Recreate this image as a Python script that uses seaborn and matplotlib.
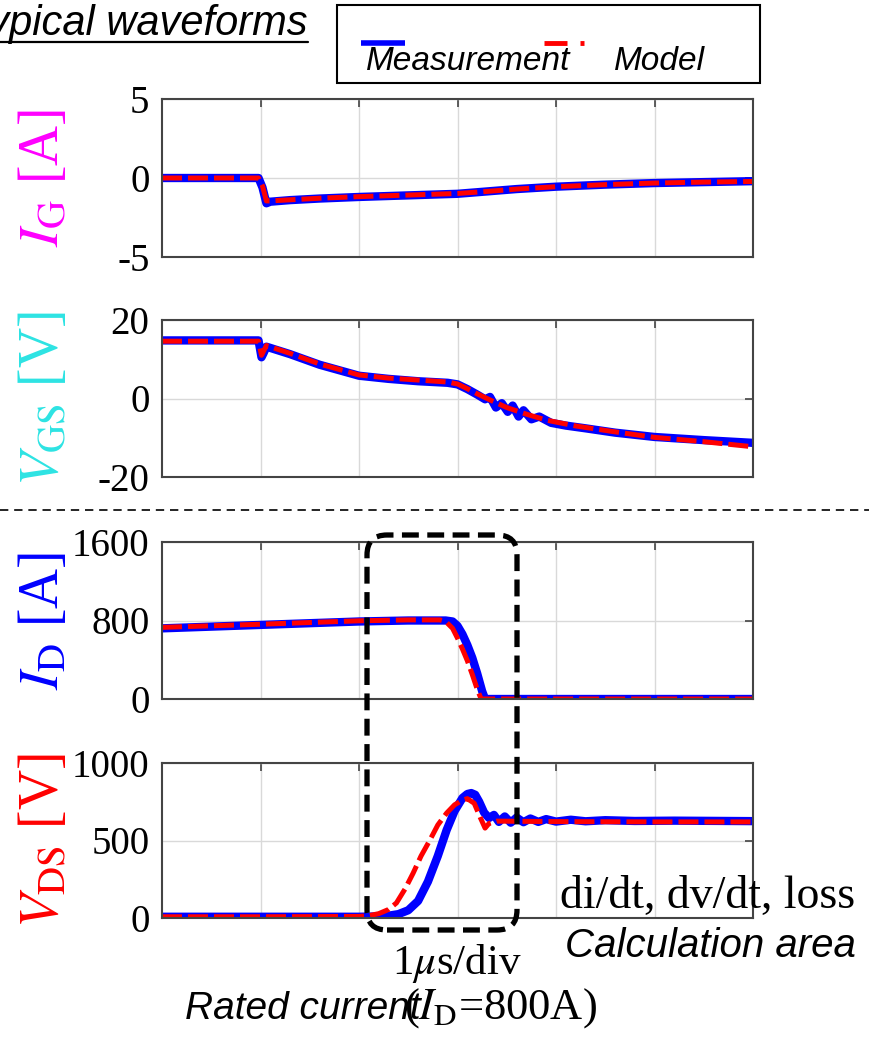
import numpy as np
import matplotlib
matplotlib.use("Agg")
import matplotlib.pyplot as plt
from matplotlib.patches import FancyBboxPatch, Rectangle
from matplotlib.lines import Line2D
import seaborn as sns

# ---------------- data (time in microseconds) ----------------
t_ig = [0, 0.98, 1.02, 1.06, 1.10, 1.3, 1.6, 2.0, 2.5, 3.0, 3.3, 3.6, 4.0, 4.5, 5.0, 5.5, 6.0]
ig_meas = [0, 0, -0.6, -1.6, -1.5, -1.4, -1.3, -1.2, -1.1, -1.0, -0.85, -0.7, -0.55, -0.42, -0.32, -0.26, -0.2]
ig_model = [0, 0, -0.5, -1.45, -1.45, -1.38, -1.28, -1.18, -1.08, -0.98, -0.85, -0.7, -0.55, -0.42, -0.32, -0.26, -0.22]

t_vgs_meas = [0, 0.98, 1.01, 1.03, 1.06, 1.3, 1.6, 2.0, 2.3, 2.6, 2.9, 3.0, 3.1, 3.2, 3.28, 3.33,
              3.39, 3.45, 3.51, 3.56, 3.62, 3.67, 3.75, 3.83, 3.95, 4.1, 4.3, 4.6, 5.0, 5.5, 6.0]
vgs_meas = [14.8, 14.8, 10.5, 11.5, 13.2, 11.3, 8.6, 5.8, 5.0, 4.4, 4.0, 3.6, 2.4, 1.0, -0.2, 0.4,
            -2.3, -1.2, -3.4, -1.8, -4.6, -3.0, -5.3, -4.6, -6.2, -6.9, -7.6, -8.7, -9.8, -10.6, -11.3]
t_vgs_model = [0, 0.98, 1.01, 1.03, 1.06, 1.3, 1.6, 2.0, 2.3, 2.6, 2.9, 3.0, 3.1, 3.2, 3.35, 3.5,
               3.7, 3.9, 4.2, 4.6, 5.0, 5.5, 6.0]
vgs_model = [14.6, 14.6, 11.0, 12.0, 13.5, 11.5, 8.8, 6.0, 5.2, 4.7, 4.2, 3.7, 2.5, 1.2, -0.6, -2.3,
             -4.0, -5.5, -7.0, -8.5, -9.9, -11.0, -12.3]

t_id_meas = [0, 1, 2, 2.5, 2.88, 2.95, 3.0, 3.05, 3.1, 3.15, 3.2, 3.25, 3.28, 4, 5, 6]
id_meas = [720, 755, 790, 800, 800, 790, 745, 660, 550, 420, 260, 80, 0, 0, 0, 0]
t_id_model = [0, 1, 2, 2.5, 2.82, 2.88, 2.95, 3.0, 3.05, 3.1, 3.15, 3.2, 3.24, 4, 5, 6]
id_model = [730, 762, 797, 806, 806, 790, 720, 620, 510, 390, 250, 100, 0, 0, 0, 0]

t_vds_meas = [0, 1, 2, 2.2, 2.3, 2.4, 2.5, 2.6, 2.7, 2.8, 2.89, 2.97, 3.05, 3.1, 3.14, 3.18, 3.22,
              3.27, 3.32, 3.37, 3.42, 3.48, 3.54, 3.6, 3.67, 3.74, 3.82, 3.9, 4.0, 4.15, 4.3, 4.5,
              4.8, 5.2, 6.0]
vds_meas = [8, 8, 8, 10, 15, 25, 50, 110, 235, 400, 568, 690, 774, 800, 806, 795, 750,
            680, 645, 665, 620, 655, 615, 648, 618, 642, 620, 638, 622, 634, 624, 631,
            626, 628, 625]
t_vds_model = [0, 1, 2, 2.1, 2.2, 2.3, 2.38, 2.47, 2.55, 2.63, 2.72, 2.8, 2.89, 2.97, 3.05, 3.1,
               3.17, 3.23, 3.28, 3.32, 3.4, 4, 5, 6]
vds_model = [8, 8, 10, 15, 28, 55, 97, 190, 290, 400, 503, 600, 677, 730, 760, 770,
             740, 650, 580, 610, 625, 622, 620, 620]

panels = [
    (t_ig, ig_meas, t_ig, ig_model, (-5, 5), [-5, 0, 5], r'$I_{\mathrm{G}}$ [A]', '#ff00ff'),
    (t_vgs_meas, vgs_meas, t_vgs_model, vgs_model, (-20, 20), [-20, 0, 20], r'$V_{\mathrm{GS}}$ [V]', '#2de3e3'),
    (t_id_meas, id_meas, t_id_model, id_model, (0, 1600), [0, 800, 1600], r'$I_{\mathrm{D}}$ [A]', '#0000ff'),
    (t_vds_meas, vds_meas, t_vds_model, vds_model, (0, 1000), [0, 500, 1000], r'$V_{\mathrm{DS}}$ [V]', '#ff0000'),
]
x_ticks = [1, 2, 3, 4, 5]

# ---------------- style ----------------
sns.set_style("white")
plt.rcParams['font.family'] = ['Liberation Serif', 'DejaVu Serif']
plt.rcParams['mathtext.fontset'] = 'stix'
plt.rcParams['axes.unicode_minus'] = False
plt.rcParams['text.color'] = 'black'
plt.rcParams['xtick.color'] = 'black'
plt.rcParams['ytick.color'] = 'black'

W, H = 869, 1045
fig = plt.figure(figsize=(W / 100, H / 100), dpi=100)

def fx(px):
    return px / W

def fy(py):
    return 1 - py / H

# axes positions in pixels: (left, top, right, bottom)
boxes = [(162, 99, 753, 257), (162, 320, 753, 477), (162, 542, 753, 699), (162, 763, 753, 918)]

for (tm, ym, tmod, ymod, ylim, yt, lab, col), (l, t, r, b) in zip(panels, boxes):
    ax = fig.add_axes([fx(l), fy(b), fx(r) - fx(l), fy(t) - fy(b)])
    sns.lineplot(x=tm, y=ym, ax=ax, color='#0000ff', linewidth=6.0, sort=False,
                 estimator=None, solid_capstyle='round', solid_joinstyle='round')
    sns.lineplot(x=tmod, y=ymod, ax=ax, color='#ff0000', linewidth=3.6, sort=False,
                 estimator=None, linestyle=(0, (4, 1.2)))
    ax.set_xlim(0, 6)
    ax.set_ylim(*ylim)
    ax.set_xticks(x_ticks)
    ax.set_yticks(yt)
    ax.grid(True, color='#d9d9d9', linewidth=1)
    ax.set_axisbelow(True)
    for s in ax.spines.values():
        s.set_color('#444444')
        s.set_linewidth(1.5)
    ax.tick_params(direction='in', length=6, width=1.2, color='#444444', labelcolor='black',
                   top=True, right=True, labelbottom=False, labelsize=28, pad=9)
    ax.set_xlabel('')
    ax.set_ylabel(lab, color=col, fontsize=40)
    ax.yaxis.label.set_va('center')
    ax.yaxis.set_label_coords(-0.2, 0.5)

# horizontal dashed separator
fig.add_artist(Line2D([0, 1], [fy(510), fy(510)], transform=fig.transFigure, color='black',
                      linewidth=1.2, linestyle=(0, (5, 3.5))))

# rounded dashed box (in inches so corners are round)
x0, x1, y0, y1 = 367, 517, 535, 930
fig.add_artist(FancyBboxPatch((x0 / 100, (H - y1) / 100), (x1 - x0) / 100, (y1 - y0) / 100,
                              boxstyle='round,pad=0,rounding_size=0.2',
                              transform=fig.dpi_scale_trans, fill=False, edgecolor='black',
                              linewidth=3.8, linestyle=(0, (3.2, 1.6)), zorder=10))

# legend box
fig.add_artist(Rectangle((fx(337), fy(83)), fx(760) - fx(337), fy(5) - fy(83),
                         transform=fig.transFigure, fill=False, edgecolor='black', linewidth=1.5))
fig.add_artist(Line2D([fx(361), fx(405)], [fy(43), fy(43)], transform=fig.transFigure,
                      color='#0000ff', linewidth=4, solid_capstyle='butt'))
fig.add_artist(Line2D([fx(544), fx(567)], [fy(43), fy(43)], transform=fig.transFigure,
                      color='#ff0000', linewidth=3.5, solid_capstyle='butt'))
fig.add_artist(Line2D([fx(580), fx(584)], [fy(43), fy(43)], transform=fig.transFigure,
                      color='#ff0000', linewidth=3.5, solid_capstyle='butt'))
sans_it = dict(family=['Liberation Sans', 'DejaVu Sans'], style='italic')
fig.text(fx(366), fy(62), 'Measurement', fontsize=24, va='center', ha='left', **sans_it)
fig.text(fx(614), fy(62), 'Model', fontsize=24, va='center', ha='left', **sans_it)

# title, clipped at the left as in the reference
fig.text(fx(308), fy(35), 'Typical waveforms', fontsize=30, ha='right', va='baseline', **sans_it)
fig.add_artist(Line2D([0, fx(308)], [fy(42), fy(42)], transform=fig.transFigure,
                      color='black', linewidth=1.6))

# annotations
fig.text(fx(560), fy(908), 'di/dt, dv/dt, loss', fontsize=33, ha='left', va='baseline')
fig.text(fx(565), fy(957), 'Calculation area', fontsize=29, ha='left', va='baseline', **sans_it)
fig.text(fx(457), fy(974), r'1$\mu$s/div', fontsize=31, ha='center', va='baseline')
fig.text(fx(185), fy(1019), 'Rated current', fontsize=28, ha='left', va='baseline', **sans_it)
fig.text(fx(404), fy(1019), r'($I_{\mathrm{D}}$=800A)', fontsize=32, ha='left', va='baseline')

fig.savefig('out.png', dpi=100)
